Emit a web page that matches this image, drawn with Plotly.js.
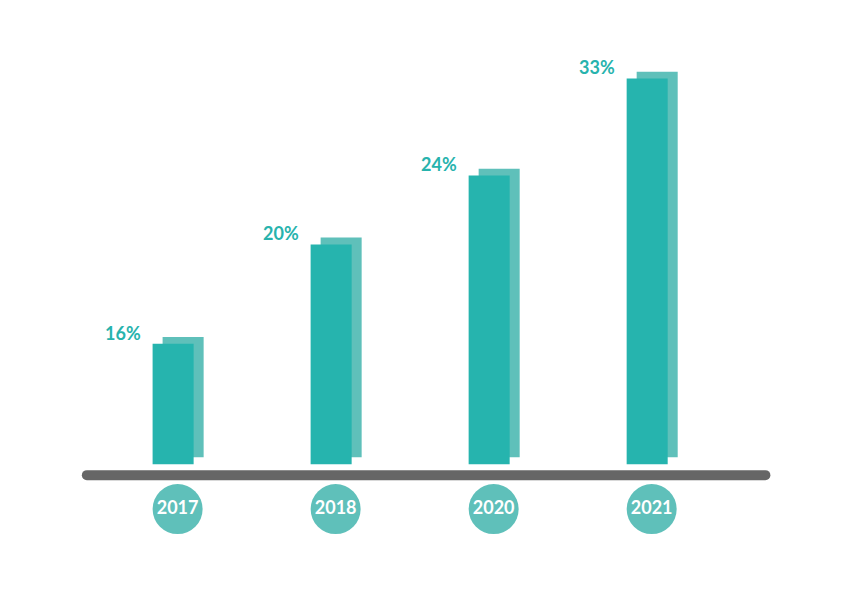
<!DOCTYPE html>
<html>
<head>
<meta charset="utf-8">
<script src="https://cdn.plot.ly/plotly-3.0.1.min.js"></script>
<style>
html,body{margin:0;padding:0;background:#fff;}
#chart{width:842px;height:595px;}
.shapelayer path{stroke-linecap:round;}
</style>
</head>
<body>
<div id="chart"></div>
<script>
// ---- data ----
const years = ['2017', '2018', '2020', '2021'];
const shareLabels = ['16%', '20%', '24%', '33%'];
const barHeights = [10.3, 18.8, 24.7, 33.0];   // bar heights as drawn (2021 bar = 33)

// ---- styling constants ----
const pxPerCat = 157.9;
const pxPerUnit = 11.697;
const barW = 41 / pxPerCat;
const frontOffset = -25 / pxPerCat;
const backOffset = -15 / pxPerCat;
const lift = 6.8 / pxPerUnit;
const frontColor = '#26b4ae';
const backColor = '#5fc0ba';
const circleY = -45 / pxPerUnit;
const lineY = -11 / pxPerUnit;

const back = {
  type: 'bar', x: years, y: barHeights, base: lift,
  width: barW, offset: backOffset,
  marker: {color: backColor, line: {width: 0}},
  hoverinfo: 'skip', showlegend: false
};
const front = {
  type: 'bar', x: years, y: barHeights,
  width: barW, offset: frontOffset,
  marker: {color: frontColor, line: {width: 0}},
  hoverinfo: 'skip', showlegend: false
};
const yearDots = {
  type: 'scatter', mode: 'markers+text', x: years,
  y: years.map(() => circleY), text: years.map(y => '<b>' + y + '</b>'),
  textposition: 'middle center', cliponaxis: false,
  marker: {size: 50, color: backColor, line: {width: 0}},
  textfont: {family: 'Lato', size: 18, color: '#ffffff'},
  hoverinfo: 'skip', showlegend: false
};

const annotations = years.map((yr, i) => ({
  x: i, y: barHeights[i], xref: 'x', yref: 'y',
  text: '<b>' + shareLabels[i] + '</b>', showarrow: false,
  xanchor: 'right', yanchor: 'middle', xshift: -35, yshift: 11,
  font: {family: 'Lato', size: 18, color: '#27b3ad'}
}));

const xMin = -0.7, xMax = 3.85, yMin = -8.2, yMax = 38;
const c0 = 177.7;
const l = Math.round(c0 + xMin * pxPerCat);
const r = Math.round(842 - (c0 + xMax * pxPerCat));
const t = Math.round(464 - yMax * pxPerUnit);
const b = Math.round(595 - (464 - yMin * pxPerUnit));

const layout = {
  width: 842, height: 595,
  margin: {l: l, r: r, t: t, b: b, pad: 0},
  paper_bgcolor: '#ffffff', plot_bgcolor: '#ffffff',
  barmode: 'overlay',
  xaxis: {type: 'category', range: [xMin, xMax], autorange: false,
          showgrid: false, zeroline: false, showline: false, showticklabels: false, ticks: ''},
  yaxis: {range: [yMin, yMax], autorange: false,
          showgrid: false, zeroline: false, showline: false, showticklabels: false, ticks: ''},
  shapes: [{
    type: 'line', xref: 'x', yref: 'y',
    x0: (87 - c0) / pxPerCat, x1: (765 - c0) / pxPerCat, y0: lineY, y1: lineY,
    line: {color: '#666666', width: 10}, layer: 'above'
  }],
  annotations: annotations,
  showlegend: false
};

Plotly.newPlot('chart', [back, front, yearDots], layout, {displayModeBar: false});
</script>
</body>
</html>
